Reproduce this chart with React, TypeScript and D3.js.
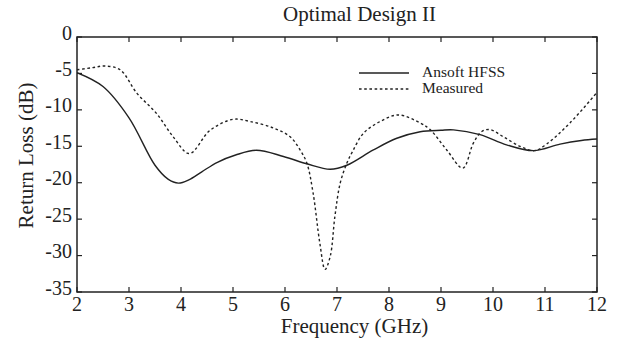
import React from "react";
import * as d3 from "d3";

const title = "Optimal Design II";
const xLabel = "Frequency (GHz)";
const yLabel = "Return Loss (dB)";
const xTicks = [2, 3, 4, 5, 6, 7, 8, 9, 10, 11, 12];
const yTicks = [0, -5, -10, -15, -20, -25, -30, -35];
const seriesNames = ["Ansoft HFSS", "Measured"];

const hfssFreq = [2, 2.5, 3.0, 3.5, 3.75, 3.95, 4.15, 4.4, 4.7, 5.05, 5.45, 5.97, 6.42, 6.87, 7.19, 7.7, 8.15, 8.6, 9.0, 9.24, 9.75, 10.26, 10.78, 11.29, 11.7, 12];
const hfssLoss = [-4.9, -6.8, -11.1, -17.6, -19.5, -20.05, -19.6, -18.5, -17.2, -16.2, -15.55, -16.4, -17.4, -18.15, -17.6, -15.5, -13.9, -13.0, -12.8, -12.75, -13.4, -14.8, -15.6, -14.7, -14.2, -14.0];

const measFreq = [2, 2.3, 2.54, 2.83, 3.15, 3.53, 3.85, 4.16, 4.56, 5.0, 5.33, 5.78, 6.1, 6.29, 6.42, 6.54, 6.67, 6.77, 6.87, 6.96, 7.06, 7.19, 7.3, 7.51, 7.83, 8.18, 8.6, 8.79, 9.11, 9.42, 9.62, 9.78, 9.94, 10.2, 10.52, 10.8, 11.03, 11.48, 12];
const measLoss = [-4.5, -4.2, -3.98, -4.5, -7.7, -10.5, -13.7, -16.0, -12.8, -11.3, -11.6, -12.5, -13.7, -15.5, -17.3, -21.4, -28.3, -31.9, -30.1, -24.6, -20.1, -17.3, -15.7, -13.2, -11.6, -10.7, -11.8, -12.7, -15.5, -18.0, -14.6, -13.0, -12.7, -13.7, -15.0, -15.6, -14.7, -11.8, -7.6];

const W = 622, H = 341;
const L = 77, R = 597, T = 37, B = 292;
const FONT = "Liberation Serif";
const INK = "#222";

export default function App() {
  const x = d3.scaleLinear().domain([2, 12]).range([L, R]);
  const y = d3.scaleLinear().domain([-35, 0]).range([B, T]);
  const line = d3
    .line<[number, number]>()
    .x((d) => x(d[0]))
    .y((d) => y(d[1]))
    .curve(d3.curveCatmullRom.alpha(0.5));
  const hfss = hfssFreq.map((f, i) => [f, hfssLoss[i]] as [number, number]);
  const meas = measFreq.map((f, i) => [f, measLoss[i]] as [number, number]);
  const tick = 5;
  const ts = { fontFamily: FONT } as React.CSSProperties;

  return (
    <svg width={W} height={H} style={{ position: "absolute", left: 0, top: 0, background: "#fff" }}>
      <rect x={0} y={0} width={W} height={H} fill="#fff" />
      <defs>
        <clipPath id="plot">
          <rect x={L} y={T} width={R - L} height={B - T} />
        </clipPath>
      </defs>
      <g clipPath="url(#plot)" fill="none">
        <path d={line(hfss) || ""} stroke={INK} strokeWidth={1.4} />
        <path d={line(meas) || ""} stroke={INK} strokeWidth={1.4} strokeDasharray="2.6,2.6" />
      </g>
      <rect x={L} y={T} width={R - L} height={B - T} fill="none" stroke={INK} strokeWidth={1.5} />
      {xTicks.map((t) => (
        <g key={"x" + t}>
          <line x1={x(t)} x2={x(t)} y1={B} y2={B - tick} stroke={INK} strokeWidth={1.2} />
          <line x1={x(t)} x2={x(t)} y1={T} y2={T + tick} stroke={INK} strokeWidth={1.2} />
          <text x={x(t)} y={311} textAnchor="middle" fontSize={20} fill={INK} style={ts}>
            {t}
          </text>
        </g>
      ))}
      {yTicks.map((t) => (
        <g key={"y" + t}>
          <line x1={L} x2={L + tick} y1={y(t)} y2={y(t)} stroke={INK} strokeWidth={1.2} />
          <line x1={R} x2={R - tick} y1={y(t)} y2={y(t)} stroke={INK} strokeWidth={1.2} />
          <text x={72} y={y(t) + 2.5} textAnchor="end" fontSize={20} fill={INK} style={ts}>
            {t}
          </text>
        </g>
      ))}
      <text x={359.5} y={21} textAnchor="middle" fontSize={21} fill={INK} style={ts}>
        {title}
      </text>
      <text x={354.5} y={333} textAnchor="middle" fontSize={21} fill={INK} style={ts}>
        {xLabel}
      </text>
      <text transform="translate(33,155.5) rotate(-90)" textAnchor="middle" fontSize={21} fill={INK} style={ts}>
        {yLabel}
      </text>
      <g>
        <line x1={359} x2={409} y1={73} y2={73} stroke={INK} strokeWidth={1.4} />
        <line x1={359} x2={409} y1={89} y2={89} stroke={INK} strokeWidth={1.4} strokeDasharray="2.6,2.6" />
        <text x={422} y={77} fontSize={15.5} fill={INK} style={ts}>
          {seriesNames[0]}
        </text>
        <text x={422} y={93} fontSize={15.5} fill={INK} style={ts}>
          {seriesNames[1]}
        </text>
      </g>
    </svg>
  );
}
